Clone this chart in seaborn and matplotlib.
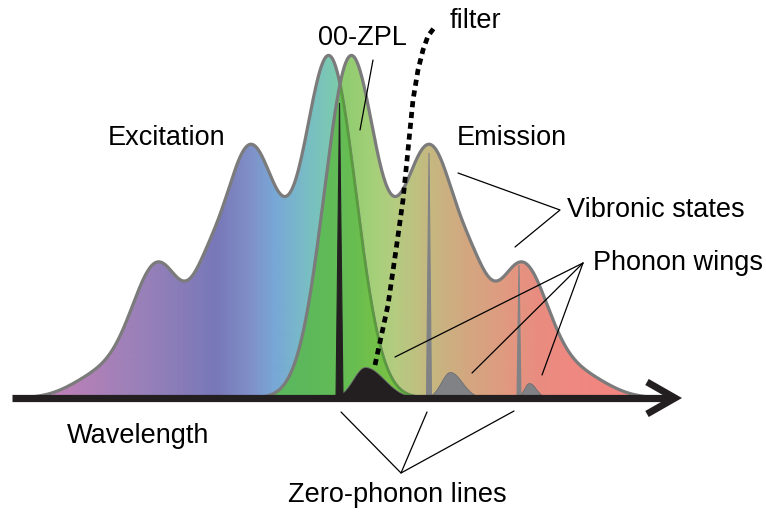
import numpy as np
import matplotlib
matplotlib.use("Agg")
import matplotlib.pyplot as plt
from matplotlib.colors import LinearSegmentedColormap
import seaborn as sns

# ---- data (pixel-like units, y = height above the wavelength axis) ----
# vibronic bands of the excitation spectrum: centre, height, width
exc_center = [100, 158, 205, 250, 330]
exc_height = [22, 131, 40, 250, 335]
exc_width = [28, 26, 15, 30, 26]
mirror_x = 340  # emission spectrum is the mirror image

# zero-phonon lines
zpl_x = [339.5, 429, 519]
zpl_h = [295, 245, 133]
zpl_w = [3.5, 2.5, 2.0]
zpl_color = ["#231f20", "#808285", "#808285"]

# phonon wings (asymmetric humps right of each ZPL)
wing_x = [365, 450, 529]
wing_h = [31, 26, 15]
wing_left = [12, 9, 5]
wing_right = [19, 12, 7]
wing_color = ["#231f20", "#808285", "#808285"]

# filter edge (dotted)
filter_x = [375, 388, 396, 403, 408, 413, 418, 423, 428, 434]
filter_y = [33, 93, 148, 198, 248, 298, 328, 348, 362, 370]

# colour gradients along wavelength
exc_stops = [(0, "#c47fb6"), (60, "#bb80b7"), (150, "#9580b9"), (215, "#7878b8"),
             (250, "#8090c8"), (275, "#78a8d6"), (305, "#78bcc6"), (335, "#7ccbaf"),
             (766, "#80d0a8")]
em_stops = [(0, "#90c868"), (345, "#90cc70"), (370, "#a2d078"), (395, "#b4cc80"),
            (430, "#c6b880"), (465, "#d2a880"), (505, "#e09a80"), (540, "#ea8c80"),
            (600, "#f28680"), (766, "#f28080")]
ovl_stops = [(0, "#5cb85c"), (300, "#5cb85c"), (340, "#62bc56"), (370, "#70c04a"),
             (400, "#7cc244"), (766, "#7cc244")]

BASE = 398  # pixel row of the axis


def py(v):
    return BASE - v


x = np.linspace(15, 665, 1400)
exc = np.zeros_like(x)
em = np.zeros_like(x)
for c, h, w in zip(exc_center, exc_height, exc_width):
    exc += h * np.exp(-(x - c) ** 2 / (2 * w ** 2))
    em += h * np.exp(-(x - (2 * mirror_x - c)) ** 2 / (2 * w ** 2))
ovl = np.minimum(exc, em)

sns.set_theme(style="white")
fig = plt.figure(figsize=(7.66, 5.12), dpi=100)
ax = fig.add_axes([0, 0, 1, 1])


def gradient_fill(y, stops, z):
    poly = ax.fill_between(x, 0, y, color="none", lw=0)
    pos = [s[0] / 766 for s in stops]
    cmap = LinearSegmentedColormap.from_list("g", list(zip(pos, [s[1] for s in stops])))
    grad = np.linspace(0, 1, 766)[None, :]
    im = ax.imshow(grad, cmap=cmap, extent=[0, 766, 0, 400], aspect="auto",
                   origin="lower", zorder=z, interpolation="bilinear")
    im.set_clip_path(poly.get_paths()[0], transform=ax.transData)


gradient_fill(exc, exc_stops, 1)
gradient_fill(em, em_stops, 2)
gradient_fill(ovl, ovl_stops, 3)

gray = "#7b7b7b"
sns.lineplot(x=x, y=exc, color=gray, lw=2.3, ax=ax, zorder=2.5)
inner = np.where(exc < em - 0.5, exc, np.nan)
ax.plot(x, inner, color="#5a9a3e", lw=1.8, zorder=3.5)
sns.lineplot(x=x, y=em, color=gray, lw=2.3, ax=ax, zorder=4)

# phonon wings
for cx, h, wl, wr, zx, col in zip(wing_x, wing_h, wing_left, wing_right, zpl_x, wing_color):
    w = np.where(x < cx, wl, wr)
    yw = h * np.exp(-(x - cx) ** 2 / (2 * w ** 2))
    yw = np.where(x >= zx, yw, 0)
    ax.fill_between(x, 0, yw, color=col, lw=0.6, edgecolor="#6d6e70", zorder=5)

# zero-phonon lines
for zx, h, w, col in zip(zpl_x, zpl_h, zpl_w, zpl_color):
    ax.fill([zx - w, zx, zx + w], [0, h, 0], color=col, lw=0.8, zorder=6)

# wavelength axis with open arrow head
ax.plot([12, 670], [0, 0], color="#231f20", lw=5.2, solid_capstyle="butt", zorder=7)
ax.plot([647, 675, 647], [16, 0, -16], color="#231f20", lw=5.0,
        solid_joinstyle="miter", solid_capstyle="butt", zorder=7)

# filter edge
ax.plot(filter_x, filter_y, color="black", lw=3.4, ls=(0, (1.3, 1.0)),
        dash_capstyle="butt", zorder=8)

# labels
fs = 19.5
font = ["Liberation Sans", "DejaVu Sans"]
labels = [("Excitation", 108, 145), ("00-ZPL", 318, 45), ("filter", 450, 28),
          ("Emission", 457, 145), ("Vibronic states", 567, 217),
          ("Phonon wings", 593, 270), ("Wavelength", 67, 443),
          ("Zero-phonon lines", 288, 502)]
for txt, tx, ty in labels:
    ax.text(tx, py(ty), txt, fontsize=fs, family=font, ha="left", va="baseline",
            color="black", zorder=9)

leaders = [
    [(373, 60), (360, 130)],
    [(458, 173), (560, 210), (515, 247)],
    [(583, 263), (395, 357)],
    [(583, 263), (472, 373)],
    [(583, 263), (542, 375)],
    [(341, 412), (401, 473), (427, 412)],
    [(401, 473), (514, 411)],
]
for seg in leaders:
    ax.plot([p[0] for p in seg], [py(p[1]) for p in seg], color="black", lw=0.9, zorder=9)

ax.set_xlim(0, 766)
ax.set_ylim(py(512), py(0))
ax.axis("off")
fig.savefig("out.png", dpi=100)
